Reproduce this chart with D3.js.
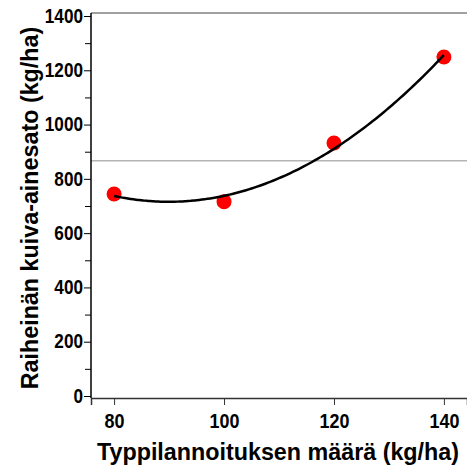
<!DOCTYPE html>
<html>
<head>
<meta charset="utf-8">
<script src="https://cdn.jsdelivr.net/npm/d3@7"></script>
<style>
  body { margin: 0; background: #fff; }
  text { font-family: "Liberation Sans", Arial, sans-serif; font-weight: bold; }
</style>
</head>
<body>
<script>
// data
const nitrogen = [80, 100, 120, 140];        // kg/ha
const yieldDM = [744, 716, 932, 1249];       // kg/ha
const refLevel = 867;                        // gray reference line
const xTicks = [80, 100, 120, 140];
const yTicks = [0, 200, 400, 600, 800, 1000, 1200, 1400];

const width = 467, height = 468;
const svg = d3.select("body").append("svg")
    .attr("width", width)
    .attr("height", height);

// scales
const x = d3.scaleLinear().domain([75.8, 144.2]).range([91, 467]);
const y = d3.scaleLinear().domain([0, 1400]).range([396, 16]);

// quadratic least squares fit of the points
function quadFit(xs, ys) {
    let n = xs.length, s = [0, 0, 0, 0, 0], t = [0, 0, 0];
    for (let i = 0; i < n; i++) {
        for (let k = 0; k < 5; k++) s[k] += Math.pow(xs[i], k);
        for (let k = 0; k < 3; k++) t[k] += ys[i] * Math.pow(xs[i], k);
    }
    // normal equations 3x3, solved with Cramer's rule
    const A = [[s[0], s[1], s[2]], [s[1], s[2], s[3]], [s[2], s[3], s[4]]];
    const det = m => m[0][0]*(m[1][1]*m[2][2]-m[1][2]*m[2][1])
                   - m[0][1]*(m[1][0]*m[2][2]-m[1][2]*m[2][0])
                   + m[0][2]*(m[1][0]*m[2][1]-m[1][1]*m[2][0]);
    const D = det(A);
    return [0, 1, 2].map(c => det(A.map((row, r) => row.map((v, j) => j === c ? t[r] : v))) / D);
}
const coef = quadFit(nitrogen, yieldDM);
const fitPts = d3.range(80, 140.01, 0.5).map(v => [v, coef[0] + coef[1]*v + coef[2]*v*v]);

// squeeze tick labels a bit horizontally, they are narrow in the original
function squeeze(sel, f) {
    sel.each(function () {
        const len = this.getComputedTextLength();
        d3.select(this).attr("textLength", len * f).attr("lengthAdjust", "spacingAndGlyphs");
    });
}

// top border
svg.append("line")
    .attr("x1", x.range()[0]).attr("x2", x.range()[1])
    .attr("y1", 13).attr("y2", 13)
    .style("stroke", "#808080")
    .style("stroke-width", 1.5);

// reference line
svg.append("line")
    .attr("x1", x.range()[0]).attr("x2", x.range()[1])
    .attr("y1", y(refLevel)).attr("y2", y(refLevel))
    .style("stroke", "#b4b4b4")
    .style("stroke-width", 1.5);

// x axis
const xAxis = svg.append("g")
    .attr("transform", "translate(0,398)")
    .call(d3.axisBottom(x).tickValues(xTicks).tickSizeOuter(0).tickSize(7).tickPadding(9).tickFormat(d3.format("d")));
xAxis.select(".domain").style("stroke", "#333").style("stroke-width", 1.5);
xAxis.selectAll(".tick line").style("stroke", "#333");
xAxis.selectAll("text").style("font-size", "19.5px").style("fill", "#000").call(squeeze, 0.92);

// y axis: minor ticks first, then major ones with labels
svg.append("g")
    .attr("transform", "translate(91,0)")
    .call(d3.axisLeft(y).tickValues(d3.range(100, 1400, 200)).tickSize(6).tickFormat(""))
    .select(".domain").remove();
const yAxis = svg.append("g")
    .attr("transform", "translate(91,0)")
    .call(d3.axisLeft(y).tickValues(yTicks).tickSize(7).tickPadding(1).tickSizeOuter(0).tickFormat(d3.format("d")));
yAxis.select(".domain").attr("d", "M0,13V398").style("stroke", "#000").style("stroke-width", 1.5);
yAxis.selectAll("text").style("font-size", "19.5px").style("fill", "#000").call(squeeze, 0.88);

// points
svg.selectAll(".pt")
    .data(nitrogen)
    .enter()
    .append("circle")
        .attr("class", "pt")
        .attr("cx", d => x(d))
        .attr("cy", (d, i) => y(yieldDM[i]))
        .attr("r", 7.5)
        .style("fill", "#ff0000");

// fitted curve
svg.append("path")
    .datum(fitPts)
    .attr("d", d3.line().x(d => x(d[0])).y(d => y(d[1])).curve(d3.curveMonotoneX))
    .style("fill", "none")
    .style("stroke", "#000")
    .style("stroke-width", 2.5);

// axis titles
svg.append("text")
    .text("Typpilannoituksen määrä (kg/ha)")
    .attr("x", 278)
    .attr("y", 460)
    .attr("text-anchor", "middle")
    .style("font-size", "23.3px");
svg.append("text")
    .text("Raiheinän kuiva-ainesato (kg/ha)")
    .attr("transform", "translate(38,208) rotate(-90)")
    .attr("text-anchor", "middle")
    .style("font-size", "23.3px");
</script>
</body>
</html>
